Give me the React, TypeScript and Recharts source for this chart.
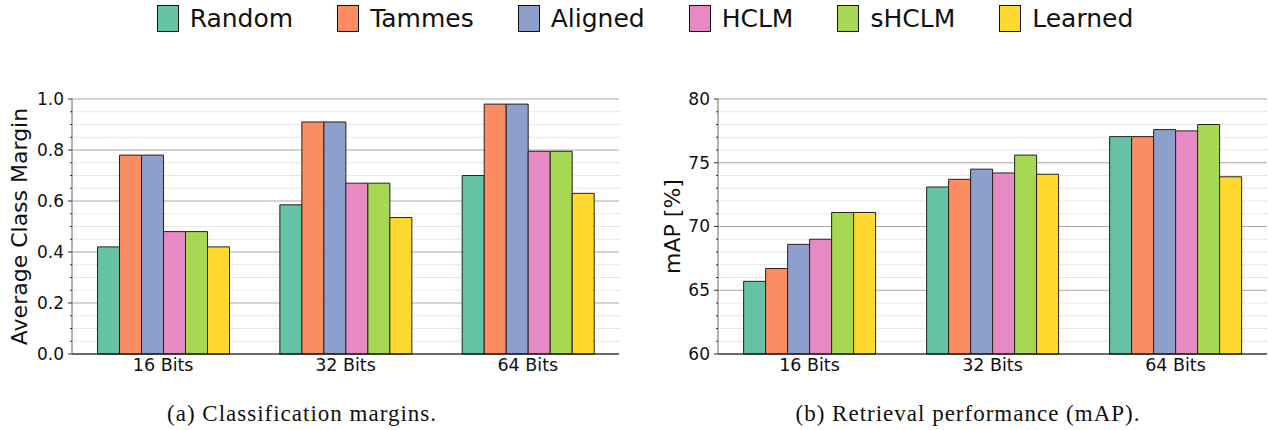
import React from 'react';
import { BarChart, Bar, XAxis, YAxis, CartesianGrid, Label } from 'recharts';

const categories = ['16 Bits', '32 Bits', '64 Bits'];
const methods = ['Random', 'Tammes', 'Aligned', 'HCLM', 'sHCLM', 'Learned'];
const colors = ['#66c2a5', '#fc8d62', '#8da0cb', '#e78ac3', '#a6d854', '#ffd92f'];

// (a) average class margin, one array per method over categories
const marginRandom = [0.42, 0.585, 0.70];
const marginTammes = [0.78, 0.91, 0.98];
const marginAligned = [0.78, 0.91, 0.98];
const marginHCLM = [0.48, 0.67, 0.795];
const marginSHCLM = [0.48, 0.67, 0.795];
const marginLearned = [0.42, 0.535, 0.63];

// (b) mAP in percent
const mapRandom = [65.7, 73.1, 77.05];
const mapTammes = [66.7, 73.7, 77.05];
const mapAligned = [68.6, 74.5, 77.6];
const mapHCLM = [69.0, 74.2, 77.5];
const mapSHCLM = [71.1, 75.6, 78.0];
const mapLearned = [71.1, 74.1, 73.9];

const marginMajor = [0, 0.2, 0.4, 0.6, 0.8, 1.0];
const marginMinor = [0.05, 0.1, 0.15, 0.25, 0.3, 0.35, 0.45, 0.5, 0.55, 0.65, 0.7, 0.75, 0.85, 0.9, 0.95];
const mapMajor = [60, 65, 70, 75, 80];
const mapMinor = [61, 62, 63, 64, 66, 67, 68, 69, 71, 72, 73, 74, 76, 77, 78, 79];

const FONT = '"DejaVu Sans", sans-serif';
const SERIF = '"Liberation Serif", serif';

function buildRows(series: number[][]) {
  return categories.map((cat, i) => {
    const row: Record<string, string | number> = { cat };
    methods.forEach((m, j) => {
      row[m] = series[j][i];
    });
    return row;
  });
}

const marginRows = buildRows([marginRandom, marginTammes, marginAligned, marginHCLM, marginSHCLM, marginLearned]);
const mapRows = buildRows([mapRandom, mapTammes, mapAligned, mapHCLM, mapSHCLM, mapLearned]);

type PanelProps = {
  rows: Record<string, string | number>[];
  width: number;
  right: number;
  axisWidth: number;
  domain: [number, number];
  major: number[];
  minor: number[];
  fmt: (v: number) => string;
  yLabel: string;
  labelX: number;
};

function Panel({ rows, width, right, axisWidth, domain, major, minor, fmt, yLabel, labelX }: PanelProps) {
  const allTicks = [...major, ...minor].sort((a, b) => a - b);
  const isMajor = (v: number) => major.some((m) => Math.abs(m - v) < 1e-9);

  const renderTick = (props: any) => {
    const { x, y, payload } = props;
    const big = isMajor(payload.value);
    return (
      <g>
        <line x1={x - (big ? 4 : 2)} x2={x} y1={y} y2={y} stroke="#333" strokeWidth={1} />
        {big && (
          <text x={x - 8} y={y} dy="0.35em" textAnchor="end" fontSize={17} fontFamily={FONT} fill="#111">
            {fmt(payload.value)}
          </text>
        )}
      </g>
    );
  };

  return (
    <BarChart
      width={width}
      height={384}
      data={rows}
      margin={{ top: 99, right, bottom: 0, left: 0 }}
      barCategoryGap="14%"
      barGap={0}
    >
      <CartesianGrid vertical={false} horizontalValues={minor} stroke="#d0d0d0" strokeDasharray="1 1" />
      <CartesianGrid vertical={false} horizontalValues={major} stroke="#a8a8a8" />
      <XAxis
        dataKey="cat"
        height={30}
        tickLine={false}
        tickSize={0}
        tickMargin={5}
        axisLine={{ stroke: '#000' }}
        tick={{ fontSize: 17.5, fontFamily: FONT, fill: '#111' }}
      />
      <XAxis xAxisId="top" orientation="top" dataKey="cat" height={0} tick={false} tickLine={false} axisLine={{ stroke: '#000' }} />
      <YAxis
        type="number"
        domain={domain}
        ticks={allTicks}
        interval={0}
        width={axisWidth}
        tickSize={0}
        tickMargin={0}
        tickLine={false}
        axisLine={{ stroke: '#666' }}
        tick={renderTick}
      >
        <Label
          content={(p: any) => {
            const vb = p.viewBox || { y: 99, height: 255 };
            const cy = vb.y + vb.height / 2;
            return (
              <text
                x={labelX}
                y={cy}
                transform={`rotate(-90 ${labelX} ${cy})`}
                textAnchor="middle"
                dominantBaseline="central"
                fontSize={22}
                fontFamily={FONT}
                fill="#111"
              >
                {yLabel}
              </text>
            );
          }}
        />
      </YAxis>
      <YAxis yAxisId="right" orientation="right" type="number" domain={domain} width={0} tick={false} tickLine={false} axisLine={{ stroke: '#666' }} />
      {methods.map((m, j) => (
        <Bar key={m} dataKey={m} fill={colors[j]} stroke="#222" strokeWidth={1} isAnimationActive={false} />
      ))}
    </BarChart>
  );
}

export default function App() {
  return (
    <div style={{ position: 'absolute', left: 0, top: 0, width: 1268, height: 430, background: '#fff', overflow: 'hidden' }}>
      <div
        style={{
          position: 'absolute',
          top: 4,
          left: 0,
          width: 1290,
          display: 'flex',
          justifyContent: 'center',
          gap: 44,
          fontFamily: FONT,
          fontSize: 25,
          color: '#111',
        }}
      >
        {methods.map((m, j) => (
          <div key={m} style={{ display: 'flex', alignItems: 'center' }}>
            <span
              style={{
                display: 'inline-block',
                width: 20,
                height: 25,
                background: colors[j],
                border: '1.5px solid #111',
                marginRight: 11,
              }}
            />
            <span>{m}</span>
          </div>
        ))}
      </div>
      <div style={{ position: 'absolute', left: 0, top: 0 }}>
        <Panel
          rows={marginRows}
          width={640}
          right={21}
          axisWidth={72}
          domain={[0, 1]}
          major={marginMajor}
          minor={marginMinor}
          fmt={(v) => v.toFixed(1)}
          yLabel="Average Class Margin"
          labelX={19}
        />
      </div>
      <div style={{ position: 'absolute', left: 640, top: 0 }}>
        <Panel
          rows={mapRows}
          width={628}
          right={1}
          axisWidth={78}
          domain={[60, 80]}
          major={mapMajor}
          minor={mapMinor}
          fmt={(v) => String(v)}
          yLabel="mAP [%]"
          labelX={32}
        />
      </div>
      <div
        style={{
          position: 'absolute',
          top: 401,
          left: 302 - 200,
          width: 400,
          textAlign: 'center',
          fontFamily: SERIF,
          fontSize: 23,
          letterSpacing: 1,
          color: '#111',
        }}
      >
        (a) Classification margins.
      </div>
      <div
        style={{
          position: 'absolute',
          top: 401,
          left: 968 - 250,
          width: 500,
          textAlign: 'center',
          fontFamily: SERIF,
          fontSize: 23,
          letterSpacing: 1,
          color: '#111',
        }}
      >
        (b) Retrieval performance (mAP).
      </div>
    </div>
  );
}
